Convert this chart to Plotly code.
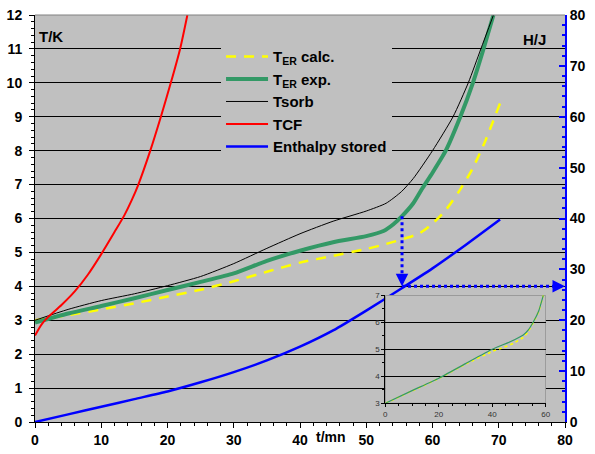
import numpy as np
import plotly.graph_objects as go

# ---------------- main chart data ----------------
t_calc = [0, 5, 10, 15, 20, 25, 30, 35, 40, 45, 50, 53, 56, 58, 60, 62, 64, 66, 68, 70.2]
T_calc = [3.0, 3.15, 3.32, 3.5, 3.7, 3.9, 4.15, 4.43, 4.7, 4.9, 5.1, 5.25, 5.42, 5.56, 5.85, 6.25, 6.8, 7.45, 8.3, 9.4]

t_exp = [0, 5, 10, 15, 20, 25, 30, 35, 40, 45, 50, 52.6, 54.1, 55.4, 57.1, 58.5, 60, 62, 64.2, 66.1, 67.7, 69.2]
T_exp = [2.93, 3.2, 3.42, 3.65, 3.89, 4.13, 4.38, 4.75, 5.05, 5.3, 5.48, 5.63, 5.83, 6.07, 6.45, 6.9, 7.35, 8.0, 9.0, 10.0, 11.0, 12.0]

t_sorb = [0, 5, 10, 15, 20, 25, 30, 35, 40, 45, 50, 53, 55.3, 57.1, 60, 63.1, 65.4, 67.3, 69.2]
T_sorb = [3.0, 3.32, 3.58, 3.78, 4.02, 4.29, 4.67, 5.12, 5.55, 5.92, 6.22, 6.45, 6.79, 7.18, 8.0, 9.0, 10.0, 11.0, 12.0]

t_cf = [0, 1, 2, 4, 6, 8, 10, 12, 13.5, 14.6, 15.6, 17.4, 19.0, 20.5, 21.9, 23.0]
T_cf = [2.55, 2.88, 3.1, 3.45, 3.85, 4.35, 4.95, 5.6, 6.1, 6.54, 7.0, 8.0, 9.0, 10.0, 11.0, 12.0]

t_H = [0, 5, 10, 15, 20, 25, 30, 35, 40, 45, 50, 55, 60, 65, 70.2]
H_stored = [0, 1.5, 3.0, 4.5, 6.0, 7.8, 9.8, 12.1, 14.8, 18.0, 21.9, 26.0, 30.2, 34.8, 39.8]

# ---------------- inset data ----------------
ti_exp = [0, 10, 20, 30, 40, 46.7, 51.6, 53.5, 55.4, 57.3, 59.1]
Ti_exp = [3.0, 3.47, 3.93, 4.47, 5.0, 5.28, 5.53, 5.72, 6.02, 6.4, 7.0]
ti_calc = [0, 10, 20, 30, 40, 43.5, 47.9, 51.6, 53.5, 55.4, 57.3, 59.1]
Ti_calc = [3.0, 3.46, 3.92, 4.45, 4.92, 5.04, 5.22, 5.44, 5.66, 6.0, 6.38, 7.0]

# read-out arrow (time on green curve, enthalpy level)
ARROW_T = 55.4
ARROW_H = 26.7

# axis tick labels
x_ticks = [0, 10, 20, 30, 40, 50, 60, 70, 80]
y_ticks = list(range(0, 13))
y2_ticks = [0, 10, 20, 30, 40, 50, 60, 70, 80]

FONT = "Liberation Sans, Arial, sans-serif"
GREY = "#C0C0C0"
GREEN = "#339966"

fig = go.Figure()
fig.add_trace(go.Scatter(x=t_calc, y=T_calc, mode="lines", name="T<sub>ER</sub> calc.",
                         line=dict(color="#FFFF00", width=2.5, dash="10px,8px", shape="spline", smoothing=0.6)))
fig.add_trace(go.Scatter(x=t_exp, y=T_exp, mode="lines", name="T<sub>ER</sub> exp.",
                         line=dict(color=GREEN, width=4, shape="spline", smoothing=0.6)))
fig.add_trace(go.Scatter(x=t_sorb, y=T_sorb, mode="lines", name="Tsorb",
                         line=dict(color="black", width=1, shape="spline", smoothing=0.6)))
fig.add_trace(go.Scatter(x=t_cf, y=T_cf, mode="lines", name="TCF",
                         line=dict(color="#FF0000", width=2, shape="spline", smoothing=0.7)))
fig.add_trace(go.Scatter(x=t_H, y=H_stored, mode="lines", name="Enthalpy stored", yaxis="y2",
                         line=dict(color="#0000FF", width=2.5, shape="spline", smoothing=0.6)))

# inset
fig.add_trace(go.Scatter(x=ti_calc, y=Ti_calc, mode="lines", xaxis="x3", yaxis="y3", showlegend=False,
                         line=dict(color="#FFFF00", width=1.6, dash="dot", shape="spline", smoothing=0.5)))
fig.add_trace(go.Scatter(x=ti_exp, y=Ti_exp, mode="lines", xaxis="x3", yaxis="y3", showlegend=False,
                         line=dict(color=GREEN, width=1.2, shape="spline", smoothing=0.5)))

T_at = float(np.interp(ARROW_T, t_exp, T_exp))
ratio = 12.0 / 80.0

shapes = [
    dict(type="rect", xref="x3", yref="y3", x0=0, x1=60, y0=3, y1=7, layer="below",
         fillcolor=GREY, line=dict(color="#808080", width=1)),
    dict(type="line", xref="x", yref="y", x0=ARROW_T, x1=ARROW_T, y0=T_at, y1=ARROW_H * ratio + 0.3,
         line=dict(color="#0000FF", width=3, dash="dot")),
    dict(type="line", xref="x", yref="y2", x0=ARROW_T, x1=78.5, y0=ARROW_H, y1=ARROW_H,
         line=dict(color="#0000FF", width=3, dash="dot")),
    dict(type="line", xref="paper", yref="paper", x0=0, x1=1, y0=1, y1=1,
         line=dict(color="#808080", width=1)),
]

annotations = [
    dict(x=ARROW_T, y=ARROW_H, xref="x", yref="y2", ax=0, ay=-12, text="", showarrow=True,
         arrowhead=2, arrowsize=1, arrowwidth=2.5, arrowcolor="#0000FF", standoff=0),
    dict(x=80, y=ARROW_H, xref="x", yref="y2", ax=-12, ay=0, text="", showarrow=True,
         arrowhead=2, arrowsize=1, arrowwidth=2.5, arrowcolor="#0000FF", standoff=0),
    dict(x=0.004, y=0.948, xref="paper", yref="paper", text="T/K", showarrow=False,
         xanchor="left", yanchor="middle", font=dict(size=15, family=FONT, color="black", weight="bold")),
    dict(x=0.968, y=0.9386, xref="paper", yref="paper", text="H/J", showarrow=False,
         xanchor="right", yanchor="middle", font=dict(size=15, family=FONT, color="black", weight="bold")),
    dict(x=44.75, y=-0.037, xref="x", yref="paper", text="t/mn", showarrow=False,
         xanchor="center", yanchor="middle", font=dict(size=14, family=FONT, color="black", weight="bold")),
]

tickfont = dict(size=14, family=FONT, color="black", weight="bold")
small = dict(size=8, family=FONT, color="#333333")

fig.update_layout(
    width=595, height=454, autosize=False,
    margin=dict(l=35, r=30, t=15, b=32, pad=0, autoexpand=False),
    paper_bgcolor="white", plot_bgcolor=GREY,
    font=dict(family=FONT),
    showlegend=True,
    legend=dict(x=0.351, y=0.938, xanchor="left", yanchor="top", bgcolor=GREY, borderwidth=0,
                font=dict(size=15, family=FONT, color="black", weight="bold"),
                itemwidth=42, tracegroupgap=0),
    xaxis=dict(domain=[0, 1], range=[0, 80], tickvals=x_ticks, ticks="outside", ticklen=5, tickcolor="black",
               minor=dict(dtick=2, ticks="outside", ticklen=3, tickcolor="black"),
               showline=True, linecolor="black", linewidth=1, showgrid=False, zeroline=False,
               tickfont=tickfont, anchor="y", automargin=False),
    yaxis=dict(range=[0, 12], tickvals=y_ticks, ticks="outside", ticklen=5, tickcolor="black",
               minor=dict(dtick=0.2, ticks="outside", ticklen=3, tickcolor="black"),
               showline=True, linecolor="black", linewidth=1, showgrid=True, gridcolor="black", gridwidth=1,
               zeroline=False, tickfont=tickfont, ticklabelstandoff=4, automargin=False),
    yaxis2=dict(overlaying="y", side="right", range=[0, 80], tickvals=y2_ticks, ticks="inside", ticklen=6,
                tickcolor="#0000FF", tickwidth=2,
                minor=dict(dtick=2, ticks="inside", ticklen=3, tickcolor="#0000FF", tickwidth=2),
                showline=True, linecolor="#0000FF", linewidth=2, showgrid=False, zeroline=False,
                tickfont=tickfont, automargin=False),
    xaxis3=dict(domain=[0.661, 0.9636], anchor="y3", range=[0, 60], dtick=20, ticks="outside", ticklen=3,
                tickcolor="black", minor=dict(dtick=5, ticks="outside", ticklen=2, tickcolor="black"),
                showline=True, linecolor="black", linewidth=1, showgrid=False, zeroline=False,
                tickfont=small, automargin=False),
    yaxis3=dict(domain=[0.0459, 0.3113], anchor="x3", range=[3, 7], dtick=1, ticks="outside", ticklen=3,
                tickcolor="black", minor=dict(dtick=0.5, ticks="outside", ticklen=2, tickcolor="black"),
                showline=True, linecolor="black", linewidth=1, showgrid=True, gridcolor="black", gridwidth=1,
                zeroline=False, tickfont=small, automargin=False),
    shapes=shapes,
    annotations=annotations,
)

fig.write_html("out.html")
